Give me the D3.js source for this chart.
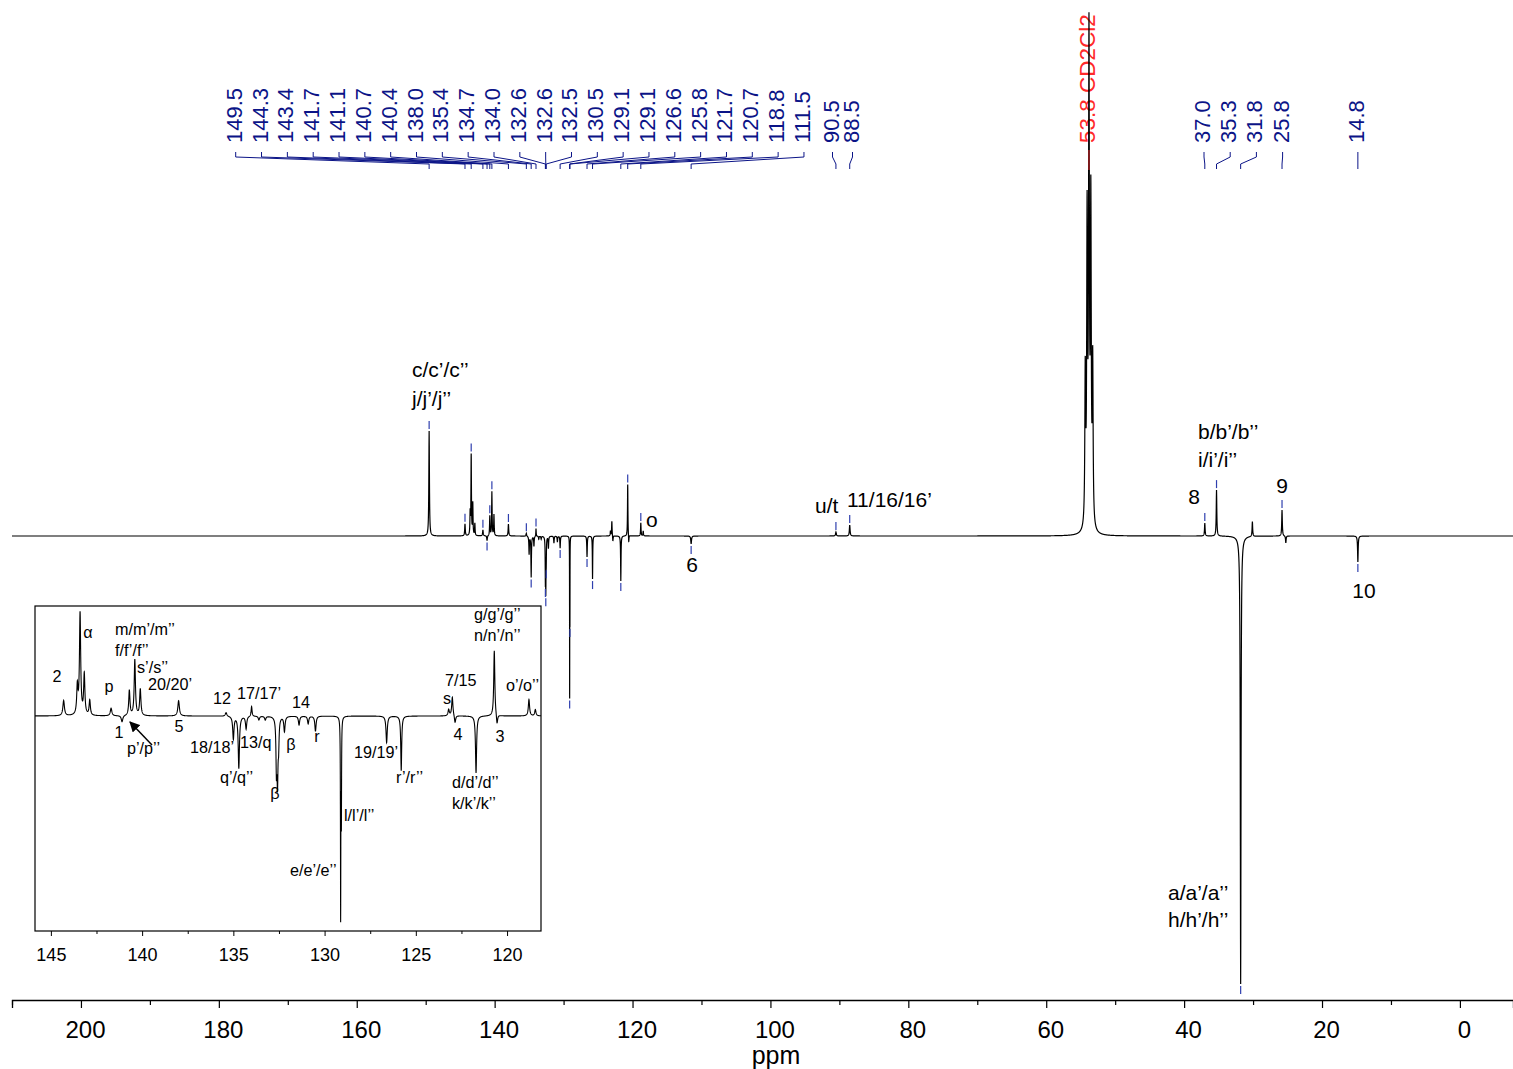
<!DOCTYPE html>
<html><head><meta charset="utf-8">
<script src="https://cdn.jsdelivr.net/npm/d3@7"></script>
<style>
html,body{margin:0;padding:0;background:#fff;}
svg{display:block;font-family:"Liberation Sans",Arial,Helvetica,sans-serif;}
</style></head><body>
<svg id="chart" width="1513" height="1069"></svg>
<script>
// 13C DEPT-style spectrum: resonance lines (shift in ppm, signed intensity, half-width in ppm)
const lineShift = [149.5, 144.3, 143.55, 143.4, 143.17, 142.87, 141.7, 141.1, 140.7, 140.4, 140.1, 138.0,
  135.4, 135.0, 134.7, 134.3, 134.0, 133.6, 133.25, 132.64, 132.58, 132.52, 132.2, 131.4, 130.9, 130.5,
  129.12, 129.08, 126.6, 125.8, 123.2, 123.0, 122.85, 121.7, 120.7, 120.55, 118.8, 118.45, 111.5,
  90.5, 88.5, 54.34, 54.07, 53.8, 53.53, 53.26, 37.0, 35.3, 31.8, 30.1, 25.8, 25.25, 14.8];
const lineIntensity = [105, 12, 22, 80, 32, 12, 6, -5, 20, 44, 21, 12,
  3, -18, -41, -10, 8, -3, -3, -40, -48, -20, -12, -7, -6, -12,
  -156, -78, -21, -43, 5, 15, -6, -45, 52, -8, 13, 5, -8,
  4, 11, 150, 300, 480, 315, 160, 13, 46, -448, 15, 26, -7, -26];
const lineWidth = [0.05, 0.05, 0.04, 0.04, 0.04, 0.04, 0.05, 0.05, 0.04, 0.04, 0.04, 0.05,
  0.05, 0.04, 0.04, 0.04, 0.03, 0.04, 0.04, 0.03, 0.03, 0.03, 0.04, 0.04, 0.04, 0.04,
  0.012, 0.012, 0.04, 0.03, 0.04, 0.04, 0.04, 0.035, 0.035, 0.04, 0.04, 0.04, 0.06,
  0.06, 0.06, 0.07, 0.07, 0.07, 0.07, 0.07, 0.05, 0.05, 0.06, 0.05, 0.05, 0.05, 0.05];

// Picked peaks listed along the top
const pickedShift = [149.5, 144.3, 143.4, 141.7, 141.1, 140.7, 140.4, 138.0, 135.4, 134.7, 134.0,
  132.64, 132.58, 132.52, 130.5, 129.12, 129.08, 126.6, 125.8, 121.7, 120.7, 118.8, 111.5,
  90.5, 88.5, 37.0, 35.3, 31.8, 25.8, 14.8];
const solventShift = 53.8;
const solventName = "CD2Cl2";

// Axis ticks
const mainTicks = [210, 200, 190, 180, 170, 160, 150, 140, 130, 120, 110, 100, 90, 80, 70, 60, 50, 40, 30, 20, 10, 0];
const mainTickLabels = [200, 180, 160, 140, 120, 100, 80, 60, 40, 20, 0];
const insetTicks = [145, 142.5, 140, 137.5, 135, 132.5, 130, 127.5, 125, 122.5, 120];
const insetTickLabels = [145, 140, 135, 130, 125, 120];

// Assignments
const mainNotes = ["c/c’/c’’", "j/j’/j’’", "o", "6", "u/t", "11/16/16’", "b/b’/b’’", "i/i’/i’’", "8", "9", "10", "a/a’/a’’", "h/h’/h’’"];
const insetNotes = ["2", "α", "m/m’/m’’", "f/f’/f’’", "s’/s’’", "20/20’", "p", "12", "17/17’", "14", "1", "5", "p’/p’’",
  "18/18’", "13/q", "β", "r", "q’/q’’", "β", "19/19’", "r’/r’’", "l/l’/l’’", "e/e’/e’’", "s", "7/15", "4", "3",
  "g/g’/g’’", "n/n’/n’’", "o’/o’’", "d/d’/d’’", "k/k’/k’’"];

// ---- layout ----
const mainNotePos = [[412,377,"start"],[412,406,"start"],[646,527,"start"],[692,572,"middle"],[815,513,"start"],
  [847,507,"start"],[1198,439,"start"],[1198,467,"start"],[1194,504,"middle"],[1282,493,"middle"],[1364,598,"middle"],
  [1168,900,"start"],[1168,927,"start"]];
const insetNotePos = [[57,682,"middle"],[88,638,"middle"],[115,635,"start"],[115,656,"start"],[137,673,"start"],
  [148,690,"start"],[109,692,"middle"],[222,704,"middle"],[237,699,"start"],[301,708,"middle"],[119,738,"middle"],
  [179,732,"middle"],[127,754,"start"],[190,753,"start"],[240,748,"start"],[291,750,"middle"],[317,742,"middle"],
  [220,783,"start"],[275,799,"middle"],[354,758,"start"],[396,783,"start"],[344,821,"start"],[290,876,"start"],
  [447,704,"middle"],[445,686,"start"],[458,740,"middle"],[500,742,"middle"],[474,620,"start"],[474,641,"start"],
  [506,691,"start"],[452,788,"start"],[452,809,"start"]];
const labelGroups = [
  {from: 0, to: 22, x0: 235.7, step: 25.83},
  {from: 23, to: 24, x0: 832.5, step: 20},
  {from: 25, to: 28, x0: 1204, step: 26.2},
  {from: 29, to: 29, x0: null, step: 0}
];

const svg = d3.select("#chart");
const navy = "#0b1487", markBlue = "#2f3fae";

const x = d3.scaleLinear().domain([210.0, -7.7]).range([12, 1513]);
const y = d3.scaleLinear().domain([-449, 523]).range([985, 13]);

function intensityAt(p) {
  let s = 0;
  for (let i = 0; i < lineShift.length; i++) {
    const d = (p - lineShift[i]) / lineWidth[i];
    s += lineIntensity[i] / (1 + d * d);
  }
  return s;
}
function samplePoints(lo, hi, step) {
  const pts = d3.range(lo, hi, step);
  pts.push(hi);
  lineShift.forEach((c, i) => {
    const w = lineWidth[i];
    for (let k = -16; k <= 16; k += 0.5) {
      const p = c + k * w;
      if (p >= lo && p <= hi) pts.push(p);
    }
  });
  return pts.sort((a, b) => a - b);
}

// ---- peak list labels (text first, so the trace sits on top) ----
const labelLayer = svg.append("g");
const traceLayer = svg.append("g");
const connectorLayer = svg.append("g");

labelGroups.forEach(g => {
  for (let i = g.from; i <= g.to; i++) {
    const p = pickedShift[i];
    const px = x(p);
    const lx = g.x0 === null ? px : g.x0 + (i - g.from) * g.step;
    connectorLayer.append("path")
      .attr("d", `M${lx},152V157L${px},164V169`)
      .attr("fill", "none").attr("stroke", navy).attr("stroke-width", 1);
    labelLayer.append("text")
      .attr("transform", `translate(${lx - 1.5},143) rotate(-90)`)
      .attr("dominant-baseline", "central")
      .attr("font-size", 22).attr("fill", navy)
      .text(p.toFixed(1));
  }
});
{
  const sx = x(solventShift);
  connectorLayer.append("line").attr("x1", sx).attr("x2", sx).attr("y1", 150).attr("y2", 170)
    .attr("stroke", "#e8262b").attr("stroke-width", 1);
  labelLayer.append("text")
    .attr("transform", `translate(${sx - 1.5},143) rotate(-90)`)
    .attr("dominant-baseline", "central")
    .attr("font-size", 22.5).attr("fill", "#ff2a2a")
    .text(solventShift.toFixed(1) + " " + solventName);
}

// ---- main spectrum ----
svg.append("defs").append("clipPath").attr("id", "mainClip")
  .append("rect").attr("x", 12).attr("y", 0).attr("width", 1501).attr("height", 995);

const mainPts = samplePoints(-7.7, 210, 0.02);
traceLayer.append("path")
  .attr("clip-path", "url(#mainClip)")
  .attr("d", d3.line().x(p => x(p)).y(p => y(intensityAt(p)))(mainPts))
  .attr("fill", "none").attr("stroke", "#000").attr("stroke-width", 1.2);

// peak pick markers
pickedShift.forEach(p => {
  const v = intensityAt(p), ty = y(v);
  const [a, b] = v >= 0 ? [ty - 10, ty - 2] : [ty + 2, ty + 10];
  connectorLayer.append("line").attr("x1", x(p)).attr("x2", x(p)).attr("y1", a).attr("y2", b)
    .attr("stroke", markBlue).attr("stroke-width", 1.2);
});

// main annotations
mainNotes.forEach((t, i) => {
  const [tx, ty, an] = mainNotePos[i];
  svg.append("text").attr("x", tx).attr("y", ty).attr("text-anchor", an)
    .attr("font-size", 21).attr("fill", "#000").text(t);
});

// ---- main axis ----
const axisY = 1000;
const ax = svg.append("g").attr("transform", `translate(0,${axisY})`)
  .call(d3.axisBottom(x).tickValues(mainTicks).tickSizeOuter(0).tickSize(8).tickPadding(13)
    .tickFormat(d => mainTickLabels.includes(d) ? d : ""));
ax.select(".domain").attr("stroke", "#000").attr("stroke-width", 1.3);
ax.selectAll(".tick line").attr("stroke", "#000").attr("stroke-width", 1.2)
  .attr("y2", d => mainTickLabels.includes(d) ? 8 : 5);
ax.selectAll(".tick text").attr("font-size", 24).attr("dx", 4)
  .attr("font-family", "Liberation Sans, Arial, sans-serif").attr("fill", "#000");
svg.append("text").attr("x", 776).attr("y", 1064).attr("text-anchor", "middle")
  .attr("font-size", 25).text("ppm");

// ---- inset: expanded aromatic region ----
const box = {x0: 35, y0: 606, x1: 541, y1: 931};
const xi = d3.scaleLinear().domain([145.87, 118.14]).range([box.x0, box.x1]);
const yi = d3.scaleLinear().domain([0, 100]).range([716, 589]);

svg.append("clipPath").attr("id", "insetClip")
  .append("rect").attr("x", box.x0).attr("y", box.y0).attr("width", box.x1 - box.x0).attr("height", box.y1 - box.y0);
svg.append("rect").attr("x", box.x0).attr("y", box.y0).attr("width", box.x1 - box.x0).attr("height", box.y1 - box.y0)
  .attr("fill", "#fff").attr("stroke", "none");
const insetPts = samplePoints(118.14, 145.87, 0.008);
svg.append("path")
  .attr("clip-path", "url(#insetClip)")
  .attr("d", d3.line().x(p => xi(p)).y(p => yi(intensityAt(p)))(insetPts))
  .attr("fill", "none").attr("stroke", "#000").attr("stroke-width", 1.1);
svg.append("rect").attr("x", box.x0).attr("y", box.y0).attr("width", box.x1 - box.x0).attr("height", box.y1 - box.y0)
  .attr("fill", "none").attr("stroke", "#000").attr("stroke-width", 1.2);

const ix = svg.append("g").attr("transform", `translate(0,${box.y1})`)
  .call(d3.axisBottom(xi).tickValues(insetTicks).tickSizeOuter(0).tickSize(5).tickPadding(12)
    .tickFormat(d => insetTickLabels.includes(d) ? d : ""));
ix.select(".domain").remove();
ix.selectAll(".tick line").attr("stroke", "#000").attr("y2", d => insetTickLabels.includes(d) ? 5 : 3);
ix.selectAll(".tick text").attr("font-size", 18).attr("font-family", "Liberation Sans, Arial, sans-serif").attr("fill", "#000");

insetNotes.forEach((t, i) => {
  const [tx, ty, an] = insetNotePos[i];
  svg.append("text").attr("x", tx).attr("y", ty).attr("text-anchor", an)
    .attr("font-size", 16.2).attr("fill", "#000").text(t);
});

// arrow pointing at p'/p''
svg.append("defs").append("marker").attr("id", "arrowHead")
  .attr("viewBox", "0 0 10 10").attr("refX", 9).attr("refY", 5)
  .attr("markerWidth", 7).attr("markerHeight", 7).attr("orient", "auto")
  .append("path").attr("d", "M0,0L10,5L0,10z").attr("fill", "#000");
svg.append("line").attr("x1", 152).attr("y1", 745).attr("x2", 130).attr("y2", 722)
  .attr("stroke", "#000").attr("stroke-width", 1.5).attr("marker-end", "url(#arrowHead)");
</script>
</body></html>
